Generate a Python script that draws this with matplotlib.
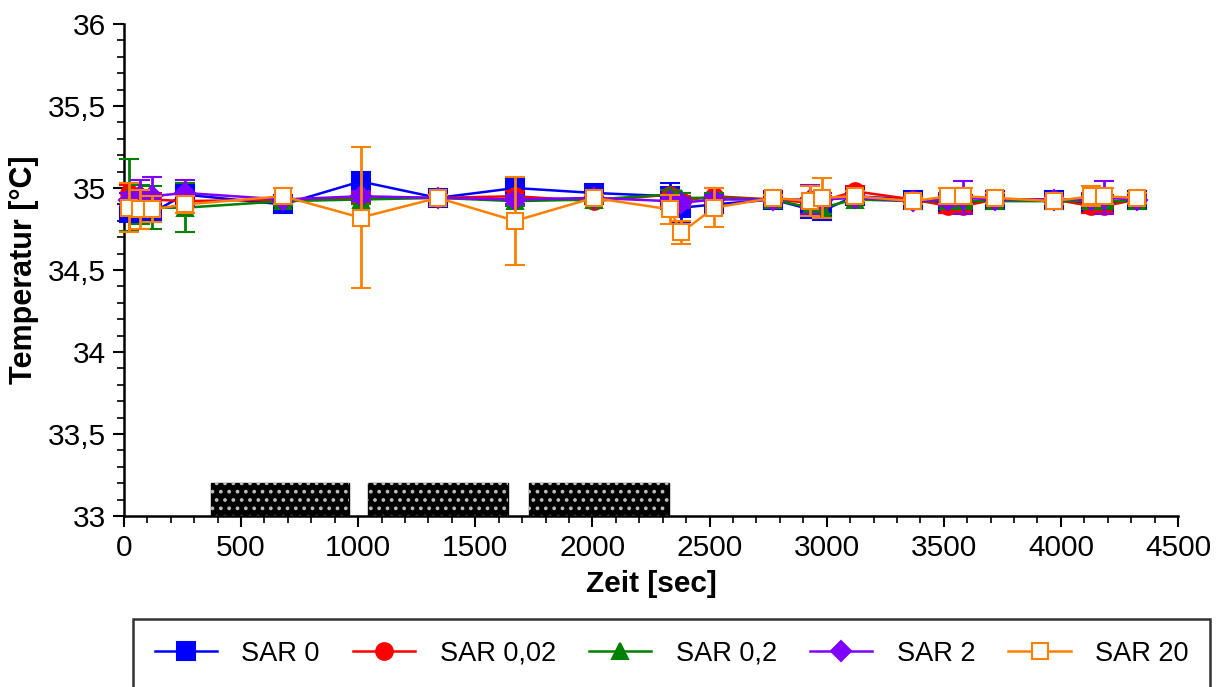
import numpy as np
import matplotlib.pyplot as plt
from matplotlib.ticker import MultipleLocator

plt.rcParams['font.family'] = ['Liberation Sans', 'DejaVu Sans']

# Messzeitpunkte [sec]
zeit = [20, 70, 120, 260, 680, 1010, 1340, 1670, 2005, 2330, 2380, 2520,
        2770, 2930, 2980, 3120, 3370, 3520, 3580, 3720, 3970, 4130, 4185, 4325]

sar0 = [34.85, 34.84, 34.85, 34.96, 34.90, 35.04, 34.94, 35.00, 34.97, 34.95, 34.88, 34.90,
        34.93, 34.87, 34.86, 34.95, 34.93, 34.90, 34.90, 34.93, 34.93, 34.90, 34.90, 34.93]
sar0_err = [0.04, 0.04, 0.04, 0.06, 0.03, 0.04, 0.02, 0.04, 0.03, 0.08, 0.09, 0.04,
            0.02, 0.04, 0.04, 0.03, 0.03, 0.05, 0.05, 0.03, 0.03, 0.05, 0.05, 0.03]

sar002 = [34.97, 34.93, 34.93, 34.92, 34.93, 34.94, 34.94, 34.95, 34.92, 34.96, 34.92, 34.95,
          34.93, 34.91, 34.92, 34.98, 34.93, 34.89, 34.89, 34.93, 34.93, 34.89, 34.89, 34.93]
sar002_err = [0.05, 0.04, 0.04, 0.03, 0.02, 0.03, 0.02, 0.03, 0.02, 0.03, 0.03, 0.05,
              0.02, 0.03, 0.03, 0.03, 0.02, 0.04, 0.04, 0.02, 0.02, 0.04, 0.04, 0.02]

sar02 = [34.96, 34.90, 34.88, 34.88, 34.92, 34.93, 34.94, 34.92, 34.93, 34.96, 34.94, 34.94,
         34.93, 34.88, 34.88, 34.93, 34.92, 34.92, 34.92, 34.92, 34.92, 34.92, 34.92, 34.92]
sar02_err = [0.22, 0.12, 0.13, 0.15, 0.03, 0.03, 0.02, 0.03, 0.02, 0.03, 0.03, 0.03,
             0.02, 0.04, 0.04, 0.02, 0.02, 0.03, 0.03, 0.02, 0.02, 0.03, 0.03, 0.02]

sar2 = [34.93, 34.95, 34.95, 34.97, 34.93, 34.95, 34.94, 34.93, 34.94, 34.92, 34.91, 34.93,
        34.93, 34.93, 34.93, 34.94, 34.92, 34.93, 34.94, 34.93, 34.93, 34.93, 34.94, 34.93]
sar2_err = [0.04, 0.10, 0.12, 0.08, 0.02, 0.03, 0.02, 0.03, 0.02, 0.03, 0.03, 0.03,
            0.02, 0.09, 0.04, 0.02, 0.02, 0.04, 0.10, 0.02, 0.02, 0.04, 0.10, 0.02]

sar20 = [34.88, 34.87, 34.87, 34.90, 34.95, 34.82, 34.94, 34.80, 34.94, 34.87, 34.73, 34.88,
         34.94, 34.92, 34.94, 34.95, 34.92, 34.95, 34.95, 34.94, 34.92, 34.95, 34.95, 34.94]
sar20_err = [0.15, 0.12, 0.08, 0.05, 0.05, 0.43, 0.02, 0.27, 0.02, 0.09, 0.07, 0.12,
             0.02, 0.09, 0.12, 0.03, 0.02, 0.05, 0.05, 0.03, 0.02, 0.06, 0.05, 0.03]

# Expositionsphasen
expo_start = [370, 1042, 1729]
expo_end = [961, 1640, 2327]

yticks = [33, 33.5, 34, 34.5, 35, 35.5, 36]
ytick_labels = ['33', '33,5', '34', '34,5', '35', '35,5', '36']
xticks = [0, 500, 1000, 1500, 2000, 2500, 3000, 3500, 4000, 4500]

fig = plt.figure(figsize=(12.2, 6.87), dpi=100)
ax = fig.add_axes([0.1016, 0.2489, 0.864, 0.7161])

series = [
    ('SAR 0', sar0, sar0_err, '#0000ff', 's', 13, '#0000ff'),
    ('SAR 0,02', sar002, sar002_err, '#ff0000', 'o', 12, '#ff0000'),
    ('SAR 0,2', sar02, sar02_err, '#008000', '^', 12, '#008000'),
    ('SAR 2', sar2, sar2_err, '#7f00ff', 'D', 10, '#7f00ff'),
    ('SAR 20', sar20, sar20_err, '#ff8000', 's', 11.5, 'white'),
]
handles = []
labels = []
for i, (lab, y, err, col, mk, ms, fc) in enumerate(series):
    eb = ax.errorbar(zeit, y, yerr=err, color=col, marker=mk, markersize=ms,
                     markerfacecolor=fc, markeredgecolor=col, markeredgewidth=1.5,
                     lw=1.8, elinewidth=2, capsize=7, capthick=2,
                     zorder=3 + i, clip_on=False)
    handles.append(eb[0])
    labels.append(lab)

# Balken fuer Exposition
w = np.array(expo_end) - np.array(expo_start)
ax.bar(expo_start, 0.2, width=w, bottom=33, align='edge', color='black',
       edgecolor='black', lw=1, zorder=2)
plt.rcParams['hatch.linewidth'] = 1.5
ax.bar(expo_start, 0.2, width=w, bottom=33, align='edge', color='none',
       edgecolor='#bbbbbb', hatch='..', lw=0, zorder=2)

ax.set_xlim(0, 4500)
ax.set_ylim(33, 36)
ax.set_xticks(xticks)
ax.set_yticks(yticks)
ax.set_yticklabels(ytick_labels)
ax.xaxis.set_minor_locator(MultipleLocator(100))
ax.yaxis.set_minor_locator(MultipleLocator(0.1))
ax.tick_params(which='major', direction='out', length=8, width=1.5, labelsize=21.5, pad=5)
ax.tick_params(which='minor', direction='out', length=5, width=1.2)
for s in ['top', 'right']:
    ax.spines[s].set_visible(False)
for s in ['left', 'bottom']:
    ax.spines[s].set_linewidth(1.8)

ax.set_xlabel('Zeit [sec]', fontsize=21.5, fontweight='bold', labelpad=6)
ax.set_ylabel('Temperatur [°C]', fontsize=22, fontweight='bold', labelpad=6)

leg = fig.legend(handles, labels, loc='lower left', ncol=5, mode='expand',
                 bbox_to_anchor=(0.109, -0.002, 0.883, 0.11), fontsize=19.5,
                 frameon=True, fancybox=False, edgecolor='black', borderaxespad=0,
                 handlelength=2.3, handletextpad=0.9, borderpad=0.8, columnspacing=1.0)
leg.get_frame().set_linewidth(1.8)

fig.savefig('out.png', dpi=100)
